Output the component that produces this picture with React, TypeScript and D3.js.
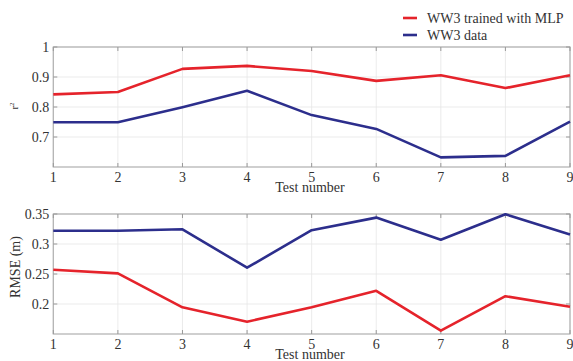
import React from "react";
import * as d3 from "d3";

const tests = [1, 2, 3, 4, 5, 6, 7, 8, 9];
const r2Mlp = [0.842, 0.85, 0.927, 0.937, 0.92, 0.887, 0.906, 0.863, 0.906];
const r2Data = [0.749, 0.749, 0.799, 0.854, 0.773, 0.727, 0.632, 0.637, 0.751];
const rmseMlp = [0.257, 0.251, 0.1945, 0.1705, 0.1945, 0.222, 0.1555, 0.213, 0.1955];
const rmseData = [0.322, 0.322, 0.3245, 0.2605, 0.323, 0.344, 0.307, 0.3495, 0.316];
const r2Ticks = [0.7, 0.8, 0.9, 1];
const rmseTicks = [0.2, 0.25, 0.3, 0.35];
const seriesNames = ["WW3 trained with MLP", "WW3 data"];

const W = 573;
const H = 361;
const RED = "#e5232b";
const BLUE = "#2c2e8c";
const FONT = "'Liberation Serif', 'DejaVu Serif', serif";

const x = d3.scaleLinear().domain([1, 9]).range([53.3, 570]);

function Panel({
  top,
  bottom,
  domain,
  ticks,
  fmt,
  red,
  blue,
  ylabel,
  ylabelX,
}: any) {
  const y = d3.scaleLinear().domain(domain).range([bottom, top]);
  const line = d3
    .line<number>()
    .x((_, i) => x(tests[i]))
    .y((d) => y(d));
  const [x0, x1] = x.range();
  return (
    <g>
      {tests.map((t) => (
        <line key={"gx" + t} x1={x(t)} x2={x(t)} y1={top} y2={bottom} stroke="#e6e6e6" strokeWidth={0.8} />
      ))}
      {ticks.map((t: number) => (
        <line key={"gy" + t} x1={x0} x2={x1} y1={y(t)} y2={y(t)} stroke="#e6e6e6" strokeWidth={0.8} />
      ))}
      <rect x={x0} y={top} width={x1 - x0} height={bottom - top} fill="none" stroke="#b0b0b0" strokeWidth={1.2} />
      {tests.map((t) => (
        <g key={"tx" + t}>
          <line x1={x(t)} x2={x(t)} y1={bottom} y2={bottom - 4} stroke="#999" />
          <line x1={x(t)} x2={x(t)} y1={top} y2={top + 4} stroke="#999" />
          <text x={x(t)} y={bottom + 15} textAnchor="middle" fontFamily={FONT} fontSize={14} fill="#333">
            {t}
          </text>
        </g>
      ))}
      {ticks.map((t: number) => (
        <g key={"ty" + t}>
          <line x1={x0} x2={x0 + 4} y1={y(t)} y2={y(t)} stroke="#999" />
          <line x1={x1} x2={x1 - 4} y1={y(t)} y2={y(t)} stroke="#999" />
          <text x={x0 - 4} y={y(t) + 5} textAnchor="end" fontFamily={FONT} fontSize={14} fill="#333">
            {fmt(t)}
          </text>
        </g>
      ))}
      <text x={310} y={bottom + 25} textAnchor="middle" fontFamily={FONT} fontSize={14} fill="#333">
        Test number
      </text>
      <path d={line(red) || ""} fill="none" stroke={RED} strokeWidth={2.6} strokeLinejoin="round" />
      <path d={line(blue) || ""} fill="none" stroke={BLUE} strokeWidth={2.6} strokeLinejoin="round" />
      {ylabel}
    </g>
  );
}

export default function App() {
  return (
    <svg width={W} height={H} style={{ position: "absolute", left: 0, top: 0, background: "#fff" }}>
      <rect width={W} height={H} fill="#fff" />
      <Panel
        top={47}
        bottom={167}
        domain={[0.6, 1]}
        ticks={r2Ticks}
        fmt={(t: number) => (t === 1 ? "1" : d3.format(".1f")(t))}
        red={r2Mlp}
        blue={r2Data}
        ylabel={
          <text transform="translate(18,106) rotate(-90)" textAnchor="middle" fontFamily={FONT} fontSize={11} fill="#333">
            r<tspan dy={-4} fontSize={7}>2</tspan>
          </text>
        }
      />
      <Panel
        top={214}
        bottom={334}
        domain={[0.15, 0.35]}
        ticks={rmseTicks}
        fmt={(t: number) => d3.format("")(+t.toFixed(2))}
        red={rmseMlp}
        blue={rmseData}
        ylabel={
          <text transform="translate(20,267) rotate(-90)" textAnchor="middle" fontFamily={FONT} fontSize={14} fill="#333">
            RMSE (m)
          </text>
        }
      />
      <g>
        <line x1={403} x2={417} y1={18} y2={18} stroke={RED} strokeWidth={2.6} />
        <text x={427} y={23} fontFamily={FONT} fontSize={14} fill="#333">
          {seriesNames[0]}
        </text>
        <line x1={403} x2={417} y1={35} y2={35} stroke={BLUE} strokeWidth={2.6} />
        <text x={427} y={40} fontFamily={FONT} fontSize={14} fill="#333">
          {seriesNames[1]}
        </text>
      </g>
    </svg>
  );
}
